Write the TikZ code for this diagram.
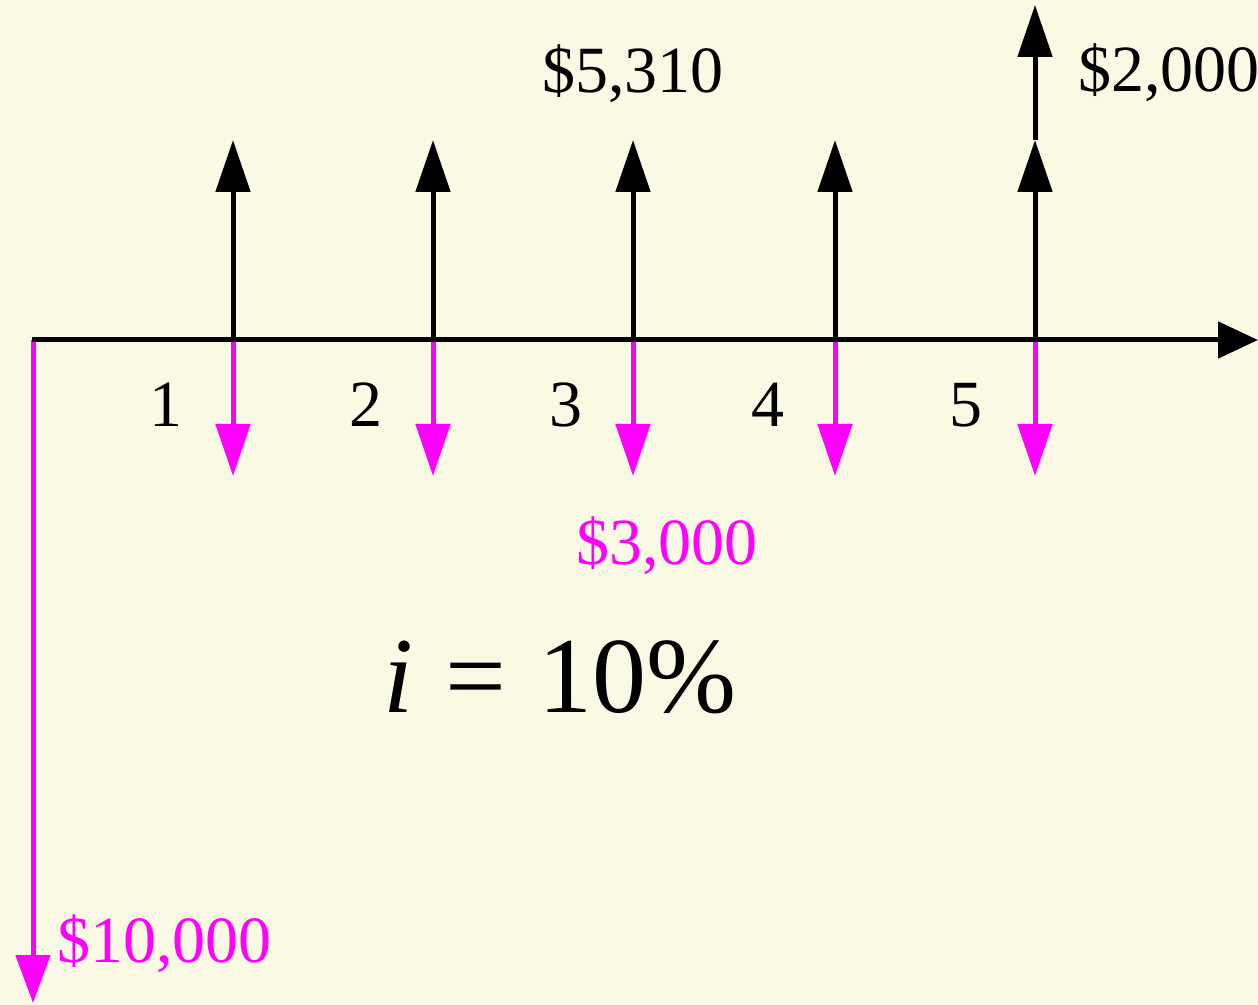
\documentclass[tikz,border=0pt]{standalone}
\usepackage{fontspec}
\setmainfont{Liberation Serif}
\usetikzlibrary{arrows.meta}
\definecolor{hgrund}{RGB}{250,250,228}
\definecolor{rosa}{RGB}{255,0,255}

\begin{document}
\begin{tikzpicture}[x=0.5pt, y=-0.5pt,
		>={Triangle[width=17pt,length=26pt]},   %Voreinstellung fuer Pfeilspitzen
		ein/.style={->, line width=2.5pt, black},
		aus/.style={->, line width=2.5pt, rosa},
		betrag/.style={inner sep=0pt, font=\fontsize{33}{38}\selectfont}]
	%Hintergrund
	\fill[hgrund] (0,0) rectangle (1258,1005);
	\useasboundingbox (0,0) rectangle (1258,1005);
	% Zeitpunkte
	\coordinate (o) at (32,340);
	\coordinate (ende) at (1258,340);
	\coordinate (start) at (33,1003);
	\foreach \n/\x in {1/233,2/433,3/633,4/835,5/1035} {
		\coordinate (t\n) at (\x,340);
		\coordinate (up\n) at (\x,140);
		\coordinate (dn\n) at (\x,476);
	}
	\coordinate (rest) at (1035,5);
	% Auszahlungen
	\draw[aus, >={Triangle[width=17pt,length=24pt]}] (33,340) -- (start);
	\foreach \n in {1,...,5} \draw[aus] (t\n) -- (dn\n);
	% Einzahlungen
	\foreach \n in {1,...,5} \draw[ein] (t\n) -- (up\n);
	\draw[ein] (up5) -- (rest);
	% Zeitachse
	\draw[ein, >={Triangle[width=18pt,length=20pt]}] (o) -- (ende);
	% Perioden beschriften
	\foreach \n/\x in {1/166,2/366,3/566,4/768,5/966}
		\node[betrag, anchor=base] (p\n) at (\x,427) {\n};
	% Betraege
	\node[betrag, anchor=base] (e3) at (633,93) {\$5,310};
	\node[betrag, anchor=base west] (e5) at (1078,92) {\$2,000};
	\node[betrag, anchor=base, rosa] (a3) at (667,564) {\$3,000};
	\node[betrag, anchor=base west, rosa] (a0) at (57,962) {\$10,000};
	% Zinssatz
	\node[inner sep=0pt, anchor=base, font=\fontsize{54}{60}\selectfont] (zins) at (560,712)
		{\textit{i}\hspace{0.3em}=\hspace{0.3em}10\%};
\end{tikzpicture}
\end{document}
